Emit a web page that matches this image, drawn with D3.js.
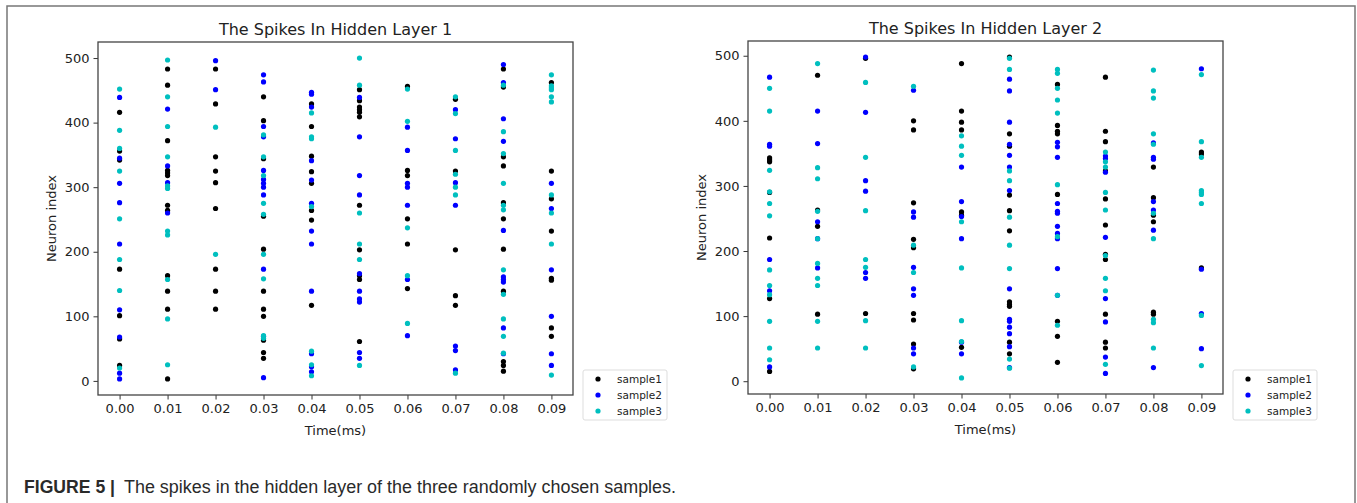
<!DOCTYPE html>
<html>
<head>
<meta charset="utf-8">
<script src="https://cdn.jsdelivr.net/npm/d3@7"></script>
<style>
    body { margin: 0; background: #fff; }
    svg { display: block; }
</style>
</head>
<body>
<div id="figure"></div>
<script>

// time steps (ms) shared by both layers
const times = [0.00, 0.01, 0.02, 0.03, 0.04, 0.05, 0.06, 0.07, 0.08, 0.09];
const yTicks = [0, 100, 200, 300, 400, 500];
const sampleNames = ["sample1", "sample2", "sample3"];

// hidden layer 1: neuron indices that spiked, one list per time step
const layer1Sample1 = [
    [416, 356, 342, 173, 101, 65, 24],
    [483, 458, 372, 326, 322, 318, 272, 264, 163, 139, 111, 3],
    [483, 429, 347, 325, 307, 267, 173, 139, 111],
    [440, 403, 344, 255, 204, 139, 111, 100, 63, 44, 35],
    [429, 394, 348, 324, 306, 264, 249, 117],
    [451, 434, 424, 420, 416, 409, 272, 203, 163, 157, 61],
    [456, 326, 318, 251, 212, 143],
    [436, 325, 203, 132, 117],
    [483, 455, 347, 333, 276, 251, 204, 139, 30, 24, 15],
    [462, 325, 282, 232, 159, 156, 82, 69]
];
const layer1Sample2 = [
    [439, 345, 306, 276, 212, 110, 68, 12, 3],
    [421, 333, 307, 260],
    [496, 451],
    [474, 463, 394, 378, 326, 312, 306, 300, 288, 173, 69, 5],
    [447, 444, 424, 341, 311, 275, 232, 212, 139, 42, 22, 14],
    [439, 378, 318, 288, 166, 139, 127, 122, 44, 35],
    [393, 357, 306, 300, 272, 157, 70],
    [420, 375, 307, 272, 54, 47, 17],
    [490, 462, 406, 371, 233, 161, 157, 153, 82, 42],
    [306, 267, 172, 100, 42, 24]
];
const layer1Sample3 = [
    [452, 388, 360, 325, 251, 188, 140, 20],
    [497, 440, 394, 347, 302, 298, 232, 226, 157, 96, 25],
    [393, 196],
    [381, 347, 318, 275, 258, 196, 158, 70, 66],
    [415, 378, 375, 270, 46, 25, 8],
    [500, 458, 260, 212, 188, 24],
    [452, 402, 237, 163, 89],
    [440, 414, 357, 320, 300, 288, 12],
    [458, 386, 352, 306, 272, 265, 172, 134, 96, 69, 43],
    [474, 457, 454, 451, 440, 432, 288, 260, 212, 9]
];

// hidden layer 2
const layer2Sample1 = [
    [343, 340, 337, 290, 220, 127, 15],
    [470, 263, 238, 103],
    [496, 104],
    [400, 386, 274, 218, 205, 104, 94, 57, 19],
    [488, 415, 398, 386, 260, 255, 52],
    [498, 380, 361, 286, 262, 231, 122, 118, 115, 60, 42],
    [456, 393, 384, 380, 287, 92, 69, 29],
    [467, 384, 368, 323, 280, 240, 195, 187, 103, 60, 51],
    [329, 282, 255, 245, 106, 103],
    [352, 349, 174]
];
const layer2Sample2 = [
    [467, 364, 361, 187, 139, 22],
    [415, 365, 245, 219, 174],
    [498, 413, 308, 292, 167, 158],
    [447, 260, 252, 175, 142, 132, 51, 42],
    [329, 276, 253, 219, 60, 42],
    [464, 446, 398, 364, 347, 329, 293, 142, 95, 92, 83, 73, 53, 21],
    [367, 360, 344, 273, 261, 258, 238, 227, 219, 173, 132],
    [346, 342, 321, 221, 127, 91, 37, 12],
    [366, 344, 341, 276, 263, 232, 21],
    [480, 172, 104, 50]
];
const layer2Sample3 = [
    [450, 415, 324, 291, 273, 254, 171, 147, 133, 92, 51, 33],
    [488, 328, 311, 261, 219, 181, 158, 147, 92, 51],
    [459, 344, 262, 187, 175, 93, 51],
    [453, 209, 167, 22],
    [377, 361, 347, 245, 174, 93, 61, 5],
    [496, 479, 323, 308, 252, 209, 173, 34, 20],
    [479, 473, 450, 432, 412, 302, 222, 132, 86],
    [352, 337, 329, 290, 263, 193, 158, 139, 26],
    [478, 446, 435, 380, 364, 258, 219, 95, 90, 51],
    [471, 368, 344, 293, 290, 287, 273, 101, 24]
];

const colors = ["#000000", "#0000ff", "#00bfbf"];
const font = "'DejaVu Sans', sans-serif";

const width = 1357, height = 503;

const svg = d3.select("#figure").append("svg")
    .attr("width", width)
    .attr("height", height);

svg.append("rect").attr("width", width).attr("height", height).attr("fill", "#fff");

// outer frame of the figure panel
svg.append("rect")
    .attr("x", 7).attr("y", 6)
    .attr("width", 1348).attr("height", 530)
    .attr("fill", "none")
    .attr("stroke", "#777")
    .attr("stroke-width", 1.5);


class SpikePlot {

    constructor(box, title, samples) {
        this.box = box;
        this.title = title;
        this.samples = samples;
        this.initVis();
    }

    initVis() {
        let vis = this;
        let b = vis.box;

        // flatten to {t, n, s} points
        vis.points = [];
        vis.samples.forEach(function (sample, s) {
            sample.forEach(function (list, i) {
                list.forEach(function (n) {
                    vis.points.push({t: times[i], n: n, s: s});
                });
            });
        });

        // matplotlib style 5% padding around the data
        let tExt = d3.extent(times);
        let nExt = d3.extent(vis.points, d => d.n);
        let tPad = (tExt[1] - tExt[0]) * 0.05;
        let nPad = (nExt[1] - nExt[0]) * 0.05;

        vis.x = d3.scaleLinear()
            .domain([tExt[0] - tPad, tExt[1] + tPad])
            .range([b.left, b.right]);

        vis.y = d3.scaleLinear()
            .domain([nExt[0] - nPad, nExt[1] + nPad])
            .range([b.bottom, b.top]);

        vis.g = svg.append("g");

        let xAxis = d3.axisBottom(vis.x)
            .tickValues(times)
            .tickFormat(d3.format(".2f"))
            .tickSize(4.5)
            .tickPadding(4);

        let yAxis = d3.axisLeft(vis.y)
            .tickValues(yTicks)
            .tickSize(4.5)
            .tickPadding(4);

        let gx = vis.g.append("g")
            .attr("transform", "translate(0," + b.bottom + ")")
            .call(xAxis);
        let gy = vis.g.append("g")
            .attr("transform", "translate(" + b.left + ",0)")
            .call(yAxis);

        [gx, gy].forEach(function (ax) {
            ax.select(".domain").remove();
            ax.selectAll("line").attr("stroke", "#333").attr("stroke-width", 1);
            ax.selectAll("text")
                .attr("fill", "#222")
                .style("font-family", font)
                .style("font-size", "13px");
        });

        // dots, sample1 first so sample3 ends on top
        vis.g.append("g").selectAll("circle")
            .data(vis.points)
            .enter().append("circle")
            .attr("cx", d => vis.x(d.t))
            .attr("cy", d => vis.y(d.n))
            .attr("r", 2.6)
            .attr("fill", d => colors[d.s]);

        // axes frame
        vis.g.append("rect")
            .attr("x", b.left).attr("y", b.top)
            .attr("width", b.right - b.left)
            .attr("height", b.bottom - b.top)
            .attr("fill", "none")
            .attr("stroke", "#444")
            .attr("stroke-width", 1.3);

        let cx = (b.left + b.right) / 2;

        vis.g.append("text")
            .attr("x", cx).attr("y", b.top - 7)
            .attr("text-anchor", "middle")
            .attr("fill", "#222")
            .style("font-family", font)
            .style("font-size", "16px")
            .text(vis.title);

        vis.g.append("text")
            .attr("x", cx).attr("y", b.bottom + 40)
            .attr("text-anchor", "middle")
            .attr("fill", "#222")
            .style("font-family", font)
            .style("font-size", "13px")
            .text("Time(ms)");

        vis.g.append("text")
            .attr("transform", "translate(" + (b.left - 42) + "," + ((b.top + b.bottom) / 2) + ") rotate(-90)")
            .attr("text-anchor", "middle")
            .attr("fill", "#222")
            .style("font-family", font)
            .style("font-size", "13px")
            .text("Neuron index");

        // legend
        let lg = vis.g.append("g")
            .attr("transform", "translate(" + (b.right + 10) + ",370)");

        lg.append("rect")
            .attr("width", 84).attr("height", 50)
            .attr("rx", 2)
            .attr("fill", "#fff")
            .attr("stroke", "#ddd")
            .attr("stroke-width", 1);

        let rows = lg.selectAll(".entry")
            .data(sampleNames)
            .enter().append("g")
            .attr("class", "entry")
            .attr("transform", (d, i) => "translate(0," + (9 + i * 16) + ")");

        rows.append("circle")
            .attr("cx", 15).attr("cy", 0)
            .attr("r", 2.6)
            .attr("fill", (d, i) => colors[i]);

        rows.append("text")
            .attr("x", 34).attr("y", 3.8)
            .attr("fill", "#222")
            .style("font-family", font)
            .style("font-size", "10.5px")
            .text(d => d);
    }
}

new SpikePlot({left: 98, right: 573, top: 42, bottom: 395},
    "The Spikes In Hidden Layer 1", [layer1Sample1, layer1Sample2, layer1Sample3]);

new SpikePlot({left: 748, right: 1223, top: 41, bottom: 394},
    "The Spikes In Hidden Layer 2", [layer2Sample1, layer2Sample2, layer2Sample3]);

// caption
svg.append("text")
    .attr("x", 24).attr("y", 493)
    .attr("fill", "#2a2a2a")
    .attr("textLength", 91)
    .attr("lengthAdjust", "spacingAndGlyphs")
    .style("font-family", "'Liberation Sans', Arial, sans-serif")
    .style("font-size", "17.5px")
    .style("font-weight", "bold")
    .text("FIGURE 5 |");

svg.append("text")
    .attr("x", 124).attr("y", 493)
    .attr("fill", "#2a2a2a")
    .attr("textLength", 552)
    .attr("lengthAdjust", "spacingAndGlyphs")
    .style("font-family", "'Liberation Sans', Arial, sans-serif")
    .style("font-size", "17.5px")
    .text("The spikes in the hidden layer of the three randomly chosen samples.");

</script>
</body>
</html>
